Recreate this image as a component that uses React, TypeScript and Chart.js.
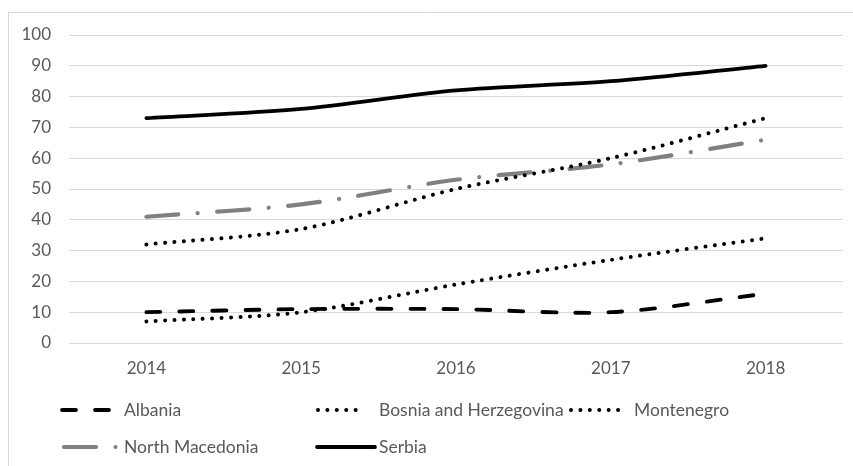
import React, { useEffect, useRef } from "react";
import { Chart, registerables } from "chart.js";

Chart.register(...registerables);

const years = ["2014", "2015", "2016", "2017", "2018"];
const albania = [10, 11, 11, 10, 16];
const bosnia = [7, 10, 19, 27, 34];
const montenegro = [32, 37, 50, 60, 73];
const northMacedonia = [41, 45, 53, 58, 66];
const serbia = [73, 76, 82, 85, 90];
const yTicks = [0, 10, 20, 30, 40, 50, 60, 70, 80, 90, 100];

const FONT = "Lato, 'Open Sans', sans-serif";
const TEXT = "#595959";
const GRID = "#d9d9d9";

// legend slot positions (sample start x, row y, sample length)
const legendSlots = [
  { x: 62, y: 410, len: 54 },   // Albania
  { x: 318, y: 410, len: 46 },  // Bosnia
  { x: 571, y: 410, len: 50 },  // Montenegro
  { x: 64, y: 447, len: 52 },   // North Macedonia
  { x: 317, y: 447, len: 58 },  // Serbia
];
const legendTextX = [124, 379, 634, 124, 379];

const framePlugin = {
  id: "frame",
  beforeDraw(chart: any) {
    const ctx = chart.ctx;
    ctx.save();
    ctx.strokeStyle = GRID;
    ctx.lineWidth = 1;
    ctx.beginPath();
    ctx.moveTo(8.5, 466);
    ctx.lineTo(8.5, 12.5);
    ctx.lineTo(853, 12.5);
    ctx.stroke();
    ctx.restore();
  },
};

const legendPlugin = {
  id: "gridLegend",
  afterDraw(chart: any) {
    const ctx = chart.ctx;
    chart.data.datasets.forEach((ds: any, i: number) => {
      const slot = legendSlots[i];
      ctx.save();
      ctx.strokeStyle = ds.borderColor;
      ctx.lineWidth = ds.borderWidth;
      ctx.lineCap = ds.borderCapStyle || "butt";
      ctx.setLineDash(ds.borderDash || []);
      ctx.beginPath();
      ctx.moveTo(slot.x, slot.y);
      ctx.lineTo(slot.x + slot.len, slot.y);
      ctx.stroke();
      ctx.restore();
      ctx.save();
      ctx.fillStyle = TEXT;
      ctx.font = `17.5px ${FONT}`;
      ctx.textBaseline = "middle";
      ctx.textAlign = "left";
      ctx.fillText(ds.label, legendTextX[i], slot.y);
      ctx.restore();
    });
  },
};

export default function App() {
  const ref = useRef<HTMLCanvasElement | null>(null);
  useEffect(() => {
    if (!ref.current) return;
    const common = { fill: false, pointRadius: 0, pointHoverRadius: 0, tension: 0.3 };
    const chart = new Chart(ref.current, {
      type: "line",
      data: {
        labels: years,
        datasets: [
          { ...common, label: "Albania", data: albania, borderColor: "#000000", borderWidth: 3.8, borderDash: [14, 19], borderCapStyle: "round" },
          { ...common, label: "Bosnia and Herzegovina", data: bosnia, borderColor: "#000000", borderWidth: 4, borderDash: [0.01, 9.4], borderCapStyle: "round" },
          { ...common, label: "Montenegro", data: montenegro, borderColor: "#000000", borderWidth: 4, borderDash: [0.01, 9.4], borderCapStyle: "round" },
          { ...common, label: "North Macedonia", data: northMacedonia, borderColor: "#808080", borderWidth: 4.2, borderDash: [32, 19.5, 0.01, 19.5], borderCapStyle: "round" },
          { ...common, label: "Serbia", data: serbia, borderColor: "#000000", borderWidth: 3.8, borderCapStyle: "round" },
        ] as any,
      },
      options: {
        animation: false,
        responsive: false,
        events: [],
        layout: { padding: { left: 0, right: 10, top: 35, bottom: 0 } },
        plugins: { legend: { display: false }, tooltip: { enabled: false } },
        scales: {
          x: {
            type: "category",
            offset: true,
            grid: { display: false, drawTicks: false },
            border: { display: false },
            ticks: { color: TEXT, font: { family: FONT, size: 17 }, padding: 15, maxRotation: 0 },
            afterFit(scale: any) { scale.height = 123; },
          },
          y: {
            min: 0,
            max: 100,
            afterBuildTicks(scale: any) { scale.ticks = yTicks.map((v) => ({ value: v })); },
            grid: { color: GRID, lineWidth: 1, drawTicks: false },
            border: { display: false },
            ticks: { color: TEXT, font: { family: FONT, size: 17 }, padding: 18 },
            afterFit(scale: any) { scale.width = 69; },
          },
        },
      } as any,
      plugins: [framePlugin, legendPlugin],
    });
    return () => chart.destroy();
  }, []);
  return (
    <div style={{ position: "absolute", left: 0, top: 0, width: 853, height: 466, background: "#fff" }}>
      <canvas ref={ref} width={853} height={466} style={{ width: 853, height: 466, display: "block" }} />
    </div>
  );
}
